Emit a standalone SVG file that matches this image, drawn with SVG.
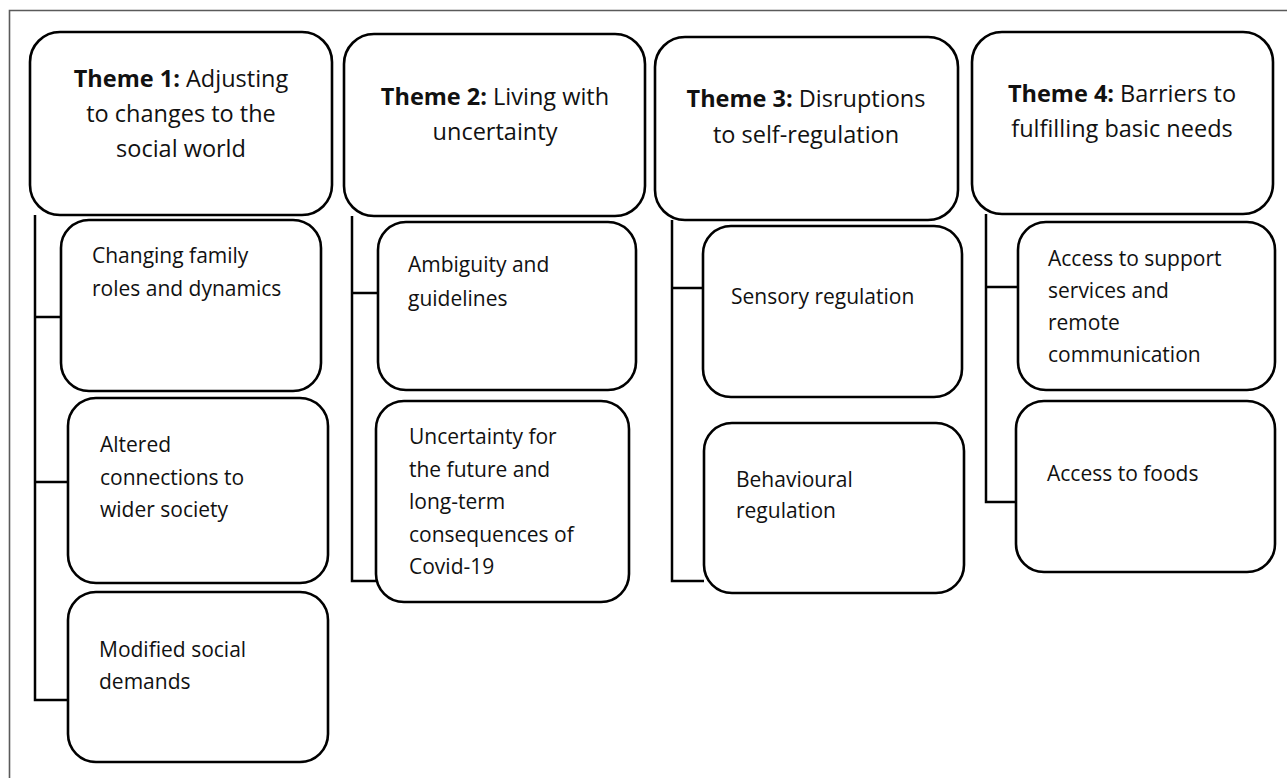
<svg xmlns="http://www.w3.org/2000/svg" width="1287" height="778" viewBox="0 0 1287 778">
<style>
.box{fill:#fff;stroke:#000;stroke-width:2.6}
.conn{fill:none;stroke:#000;stroke-width:2.5}
.frame{fill:none;stroke:#5a5a5a;stroke-width:1.6}
.t{font-family:"Open Sans","Noto Sans",sans-serif;font-size:23.5px;fill:#111;text-anchor:middle}
.c{font-family:"Open Sans","Noto Sans",sans-serif;font-size:21px;fill:#111}
.bold{font-weight:bold}
</style>
<rect width="1287" height="778" fill="#fff"/>
<path class="frame" d="M9.5,778 V10.5 H1287"/>
<g id="connectors">
<path class="conn" d="M35,215 V700 H68 M35,317 H60 M35,482 H68"/>
<path class="conn" d="M352,216 V581 H376 M352,293 H378"/>
<path class="conn" d="M672,220 V581 H704 M672,288 H703"/>
<path class="conn" d="M986,214 V502 H1016 M986,287 H1018"/>
</g>
<g id="theme1">
<rect class="box" x="30" y="32" width="302" height="183" rx="30"/>
<text class="t" x="181" y="87"><tspan class="bold">Theme 1:</tspan> Adjusting</text>
<text class="t" x="181" y="122">to changes to the</text>
<text class="t" x="181" y="157">social world</text>
</g>
<g id="theme1-sub1">
<rect class="box" x="61" y="220" width="260" height="171" rx="28"/>
<text class="c" x="92" y="263">Changing family</text>
<text class="c" x="92" y="296">roles and dynamics</text>
</g>
<g id="theme1-sub2">
<rect class="box" x="68" y="398" width="260" height="185" rx="28"/>
<text class="c" x="100" y="452">Altered</text>
<text class="c" x="100" y="485">connections to</text>
<text class="c" x="100" y="517">wider society</text>
</g>
<g id="theme1-sub3">
<rect class="box" x="68" y="592" width="260" height="170" rx="28"/>
<text class="c" x="99" y="657">Modified social</text>
<text class="c" x="99" y="689">demands</text>
</g>
<g id="theme2">
<rect class="box" x="344" y="34" width="301" height="182" rx="30"/>
<text class="t" x="495" y="105"><tspan class="bold">Theme 2:</tspan> Living with</text>
<text class="t" x="495" y="140">uncertainty</text>
</g>
<g id="theme2-sub1">
<rect class="box" x="378" y="222" width="258" height="168" rx="28"/>
<text class="c" x="408" y="272">Ambiguity and</text>
<text class="c" x="408" y="306">guidelines</text>
</g>
<g id="theme2-sub2">
<rect class="box" x="376" y="401" width="253" height="201" rx="28"/>
<text class="c" x="409" y="444">Uncertainty for</text>
<text class="c" x="409" y="477">the future and</text>
<text class="c" x="409" y="509">long-term</text>
<text class="c" x="409" y="542">consequences of</text>
<text class="c" x="409" y="574">Covid-19</text>
</g>
<g id="theme3">
<rect class="box" x="655" y="37" width="303" height="183" rx="30"/>
<text class="t" x="806" y="107"><tspan class="bold">Theme 3:</tspan> Disruptions</text>
<text class="t" x="806" y="143">to self-regulation</text>
</g>
<g id="theme3-sub1">
<rect class="box" x="703" y="226" width="259" height="171" rx="28"/>
<text class="c" x="731" y="304">Sensory regulation</text>
</g>
<g id="theme3-sub2">
<rect class="box" x="704" y="423" width="260" height="170" rx="28"/>
<text class="c" x="736" y="487">Behavioural</text>
<text class="c" x="736" y="518">regulation</text>
</g>
<g id="theme4">
<rect class="box" x="972" y="32" width="301" height="182" rx="30"/>
<text class="t" x="1122" y="102"><tspan class="bold">Theme 4:</tspan> Barriers to</text>
<text class="t" x="1122" y="137">fulfilling basic needs</text>
</g>
<g id="theme4-sub1">
<rect class="box" x="1018" y="222" width="257" height="168" rx="28"/>
<text class="c" x="1048" y="266">Access to support</text>
<text class="c" x="1048" y="298">services and</text>
<text class="c" x="1048" y="330">remote</text>
<text class="c" x="1048" y="362">communication</text>
</g>
<g id="theme4-sub2">
<rect class="box" x="1016" y="401" width="259" height="171" rx="28"/>
<text class="c" x="1047" y="481">Access to foods</text>
</g>
</svg>
